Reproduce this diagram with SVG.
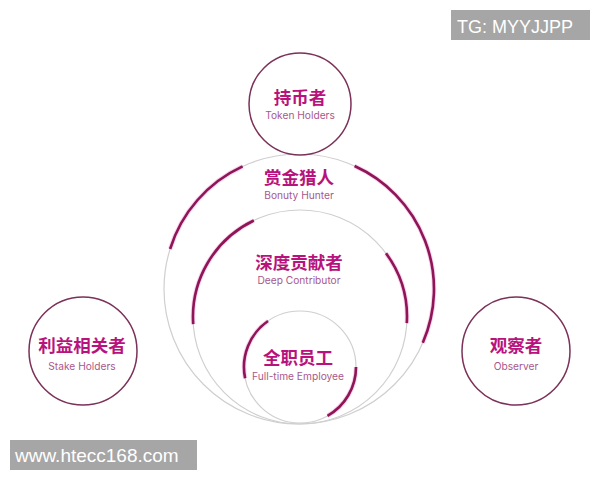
<svg xmlns="http://www.w3.org/2000/svg" width="600" height="480" viewBox="0 0 600 480">
<style>
.ring{fill:none;stroke:#cfcfcf;stroke-width:1.2}
.node{fill:#fff;stroke:#7b3158;stroke-width:1.5}
.arc{fill:none;stroke:#8e1556;stroke-width:2.6;stroke-linecap:butt}
.glow{fill:none;stroke:#f06ac8;stroke-opacity:0.3;stroke-width:4.5}
.zh{font-family:"Noto Sans CJK SC",sans-serif;font-weight:bold;font-size:17.5px;fill:#b8137c;text-anchor:middle}
.en{font-family:Inter,"Liberation Sans",sans-serif;font-size:10.2px;fill:#a9578b;text-anchor:middle}
.wm{fill:#a6a6a6}
.wmt{font-family:"Liberation Sans",Arial,sans-serif;fill:#fff}
</style>
<rect width="600" height="480" fill="#fff"/>
<g id="rings">
<circle class="ring" cx="299" cy="289" r="135"/>
<circle class="ring" cx="300" cy="317" r="107"/>
<circle class="ring" cx="300" cy="367" r="56"/>
</g>
<g id="arcs">
<path class="glow" d="M170.1 249 A135 135 0 0 1 242.6 166.4"/>
<path class="glow" d="M354.6 166 A135 135 0 0 1 422.8 342.8"/>
<path class="glow" d="M193.2 324.1 A107 107 0 0 1 253.8 220.5"/>
<path class="glow" d="M386 253.3 A107 107 0 0 1 406.8 323.2"/>
<path class="glow" d="M245.1 378.2 A56 56 0 0 1 268 321"/>
<path class="glow" d="M356 367 A56 56 0 0 1 327.5 415.8"/>
<path class="arc" d="M170.1 249 A135 135 0 0 1 242.6 166.4"/>
<path class="arc" d="M354.6 166 A135 135 0 0 1 422.8 342.8"/>
<path class="arc" d="M193.2 324.1 A107 107 0 0 1 253.8 220.5"/>
<path class="arc" d="M386 253.3 A107 107 0 0 1 406.8 323.2"/>
<path class="arc" d="M245.1 378.2 A56 56 0 0 1 268 321"/>
<path class="arc" d="M356 367 A56 56 0 0 1 327.5 415.8"/>
</g>
<g id="token-holders">
<circle class="node" cx="300" cy="104" r="51"/>
<text class="zh" x="300" y="104">持币者</text>
<text class="en" x="300" y="119">Token Holders</text>
</g>
<g id="bounty-hunter">
<text class="zh" x="299" y="184">赏金猎人</text>
<text class="en" x="299" y="199">Bonuty Hunter</text>
</g>
<g id="deep-contributor">
<text class="zh" x="299" y="269">深度贡献者</text>
<text class="en" x="299" y="284">Deep Contributor</text>
</g>
<g id="full-time-employee">
<text class="zh" x="298" y="364">全职员工</text>
<text class="en" x="298" y="380">Full-time Employee</text>
</g>
<g id="stake-holders">
<circle class="node" cx="83" cy="351" r="54"/>
<text class="zh" x="82" y="352">利益相关者</text>
<text class="en" x="82" y="370">Stake Holders</text>
</g>
<g id="observer">
<circle class="node" cx="516" cy="351" r="54"/>
<text class="zh" x="516" y="352">观察者</text>
<text class="en" x="516" y="370">Observer</text>
</g>
<g id="watermark-tg">
<rect class="wm" x="451" y="10" width="139" height="30"/>
<text class="wmt" x="457" y="33" font-size="18">TG: MYYJJPP</text>
</g>
<g id="watermark-www">
<rect class="wm" x="10" y="440" width="187" height="30"/>
<text class="wmt" x="15" y="462" font-size="19">www.htecc168.com</text>
</g>
</svg>
